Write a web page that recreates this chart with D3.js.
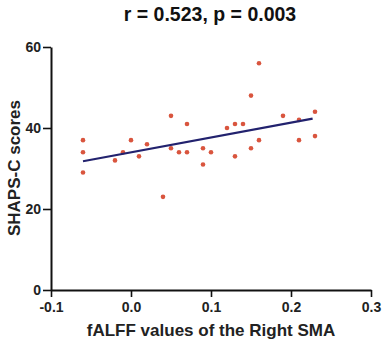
<!DOCTYPE html>
<html>
<head>
<meta charset="utf-8">
<script src="https://cdn.jsdelivr.net/npm/d3@7"></script>
<style>
  body { margin: 0; background: #fff; }
  svg { display: block; font-family: Arial, "Liberation Sans", sans-serif; }
</style>
</head>
<body>
<svg id="chart" width="383" height="343"></svg>
<script>
// fALFF values (x) and SHAPS-C scores (y)
var fALFF = [-0.06, -0.06, -0.06, -0.02, -0.01, 0.00, 0.01, 0.02, 0.04, 0.05,
             0.05, 0.06, 0.07, 0.07, 0.09, 0.09, 0.10, 0.12, 0.13, 0.13,
             0.14, 0.15, 0.15, 0.16, 0.16, 0.19, 0.21, 0.21, 0.23, 0.23];
var shaps = [37, 34, 29, 32, 34, 37, 33, 36, 23, 43,
             35, 34, 41, 34, 35, 31, 34, 40, 41, 33,
             41, 48, 35, 56, 37, 43, 42, 37, 44, 38];

// regression line end points
var fitX = [-0.06, 0.227];
var fitY = [31.8, 42.3];

var xTicks = [-0.1, 0.0, 0.1, 0.2, 0.3];
var yTicks = [0, 20, 40, 60];

var title = "r = 0.523, p = 0.003";
var xTitle = "fALFF values of the Right SMA";
var yTitle = "SHAPS-C scores";

var margin = {top: 47, right: 12, bottom: 53, left: 51};
var width = 383, height = 343;

var svg = d3.select("#chart");

var x = d3.scaleLinear().domain([-0.1, 0.3]).range([margin.left, width - margin.right]);
var y = d3.scaleLinear().domain([0, 60]).range([height - margin.bottom, margin.top]);

var points = fALFF.map(function(d, i) { return {x: d, y: shaps[i]}; });

// axes
var xAxis = svg.append("g")
    .attr("transform", "translate(0," + y(0) + ")")
    .call(d3.axisBottom(x).tickValues(xTicks).tickFormat(d3.format(".1f")).tickSize(7).tickSizeOuter(0).tickPadding(5));

var yAxis = svg.append("g")
    .attr("transform", "translate(" + x(-0.1) + ",0)")
    .call(d3.axisLeft(y).tickValues(yTicks).tickFormat(d3.format("d")).tickSize(8).tickSizeOuter(0).tickPadding(2));

[xAxis, yAxis].forEach(function(g) {
  g.select(".domain").attr("stroke", "#111").attr("stroke-width", 2);
  g.selectAll(".tick line").attr("stroke", "#111").attr("stroke-width", 1.6);
  g.selectAll(".tick text")
    .attr("fill", "#222")
    .attr("font-size", 14)
    .attr("font-weight", "bold")
    .attr("font-family", "Arial, 'Liberation Sans', sans-serif");
});
xAxis.selectAll(".tick text").text(function(d) { return d < 0 ? "-" + Math.abs(d).toFixed(1) : d.toFixed(1); });

// scatter
svg.append("g")
  .selectAll("circle")
  .data(points)
  .join("circle")
    .attr("cx", function(d) { return x(d.x); })
    .attr("cy", function(d) { return y(d.y); })
    .attr("r", 2.3)
    .attr("fill", "#d9553e");

// fit line
svg.append("line")
    .attr("x1", x(fitX[0])).attr("y1", y(fitY[0]))
    .attr("x2", x(fitX[1])).attr("y2", y(fitY[1]))
    .attr("stroke", "#22226e")
    .attr("stroke-width", 2.2);

// titles
svg.append("text")
    .attr("x", 210).attr("y", 21)
    .attr("text-anchor", "middle")
    .attr("font-size", 19.5)
    .attr("font-weight", "bold")
    .attr("fill", "#111")
    .text(title);

svg.append("text")
    .attr("x", 211).attr("y", 336)
    .attr("text-anchor", "middle")
    .attr("font-size", 17)
    .attr("font-weight", "bold")
    .attr("fill", "#222")
    .text(xTitle);

svg.append("text")
    .attr("transform", "translate(20," + 168 + ") rotate(-90)")
    .attr("text-anchor", "middle")
    .attr("font-size", 17)
    .attr("font-weight", "bold")
    .attr("fill", "#222")
    .text(yTitle);
</script>
</body>
</html>
